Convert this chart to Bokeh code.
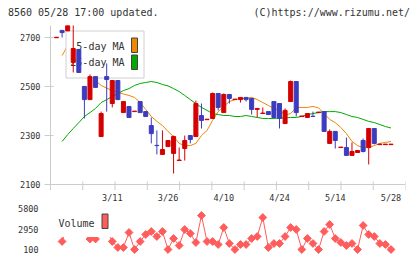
import numpy as np
from bokeh.plotting import figure
from bokeh.models import FixedTicker, Range1d, Span, Div
from bokeh.layouts import column
from bokeh.embed import file_html
from bokeh.resources import INLINE
from bokeh.core.properties import value

# ---------------- data ----------------
date_labels = ["3/11", "3/26", "4/10", "4/24", "5/14", "5/28"]
date_label_idx = [10, 20, 30, 40, 50, 60]
price_ticks = [2100, 2300, 2500, 2700]
volume_ticks = [100, 2950, 5800]
header_left = "8560 05/28 17:00 updated."
header_right = "(C)https://www.rizumu.net/"

opens = [2700, 2730, 2728, 2599, 2652, 2501, 2447, 2541, 2296, 2541,
         2431, 2525, 2394, 2419, 2398, 2439, 2398, 2341, 2260, 2223,
         2255, 2227, 2198, 2247, 2300, 2296, 2382, 2365, 2370, 2472,
         2394, 2468, 2447, 2447, 2456, 2452, 2407, 2390, 2398, 2439,
         2431, 2349, 2439, 2521, 2378, 2374, 2379, 2394, 2398, 2268,
         2317, 2251, 2251, 2219, 2231, 2280, 2251, 2329, 2263, 2263, 2263]
highs = [2702, 2730, 2775, 2765, 2652, 2501, 2550, 2541, 2398, 2595,
         2525, 2525, 2439, 2419, 2400, 2439, 2398, 2374, 2321, 2321,
         2280, 2300, 2251, 2300, 2300, 2443, 2431, 2367, 2476, 2472,
         2472, 2468, 2449, 2456, 2456, 2452, 2411, 2415, 2398, 2439,
         2431, 2411, 2525, 2521, 2380, 2390, 2398, 2396, 2398, 2325,
         2317, 2253, 2292, 2272, 2239, 2288, 2329, 2329, 2265, 2265, 2265]
lows = [2700, 2701, 2728, 2558, 2558, 2370, 2447, 2497, 2296, 2398,
        2415, 2447, 2394, 2374, 2398, 2394, 2378, 2268, 2223, 2223,
        2255, 2145, 2198, 2198, 2268, 2296, 2329, 2365, 2370, 2403,
        2394, 2431, 2447, 2435, 2439, 2386, 2374, 2390, 2386, 2374,
        2329, 2349, 2439, 2378, 2378, 2374, 2378, 2394, 2317, 2268,
        2247, 2251, 2219, 2219, 2231, 2231, 2182, 2264, 2263, 2263, 2263]
closes = [2702, 2721, 2765, 2656, 2558, 2447, 2541, 2497, 2390, 2529,
          2525, 2447, 2439, 2374, 2400, 2394, 2378, 2308, 2259, 2243,
          2280, 2296, 2200, 2280, 2284, 2431, 2362, 2367, 2472, 2415,
          2468, 2452, 2449, 2456, 2447, 2407, 2411, 2392, 2386, 2374,
          2370, 2403, 2521, 2394, 2380, 2390, 2378, 2396, 2317, 2317,
          2280, 2253, 2219, 2235, 2239, 2235, 2329, 2268, 2265, 2265, 2265]
ma5 = [np.nan, 2627, 2668, 2648, 2607, 2574, 2546, 2525, 2505, 2494,
       2484, 2476, 2470, 2464, 2456, 2435, 2407, 2378, 2358, 2341,
       2317, 2296, 2268, 2259, 2259, 2268, 2300, 2321, 2362, 2398,
       2419, 2439, 2447, 2452, 2452, 2456, 2447, 2435, 2423, 2411,
       2403, 2384, 2390, 2415, 2415, 2415, 2419, 2413, 2390, 2366,
       2353, 2333, 2308, 2276, 2259, 2251, 2251, 2259, 2268, 2272, 2276]
ma25 = [np.nan, 2276, 2304, 2329, 2353, 2378, 2394, 2411, 2435, 2447,
        2460, 2472, 2484, 2492, 2505, 2513, 2517, 2521, 2517, 2509,
        2503, 2492, 2480, 2464, 2447, 2431, 2415, 2403, 2390, 2386,
        2382, 2382, 2378, 2378, 2382, 2378, 2374, 2370, 2370, 2370,
        2372, 2372, 2374, 2374, 2378, 2386, 2390, 2394, 2398, 2398,
        2398, 2394, 2386, 2378, 2374, 2366, 2358, 2353, 2345, 2337, 2331]
volume = [np.nan, 1213, 3500, 4200, 3000, 2400, 1560, 1560, 2600, 2800,
          1213, 379, 379, 2464, 100, 1213, 2186, 2603, 1908, 2603,
          100, 1630, 657, 2881, 2325, 1074, 4827, 1213, 1213, 796,
          3159, 935, 100, 796, 796, 1630, 1908, 4549, 379, 935,
          935, 1908, 3159, 2881, 100, 1630, 935, 100, 2603, 3576,
          1630, 1074, 657, 935, 100, 3437, 2186, 1908, 935, 796, 100]

# ---------------- layout constants ----------------
W = 420
LEFT, RIGHT = 50, 15
HEAD_H = 25                 # header strip
MAIN_H = 165                # price frame: y 25 .. 190 on the page
VOL_H = 259 - HEAD_H - MAIN_H
FRAME_W = W - LEFT - RIGHT
XS, XE = -1.08, 62.6
PX_PER_YEN = 159 / 650.0
BASE_PX = 184               # page y of price 2100
P_TOP = 2100 + (BASE_PX - HEAD_H) / PX_PER_YEN
P_BOT = 2100 - (HEAD_H + MAIN_H - BASE_PX) / PX_PER_YEN

RED = "#d40000"
BLUE = "#3c3cbe"
ORANGE = "#ee8800"
GREEN = "#00aa00"
VOLC = "#ff5c5c"
AXC = "#cccccc"
TXT = "#333333"
FONTNAME = "DejaVu Sans Mono"
FONT = value(FONTNAME)

def dx(px):
    return XS + (px - LEFT) * (XE - XS) / FRAME_W

def dy(py):
    return 2100 + (BASE_PX - py) / PX_PER_YEN

def base_fig(height, **kw):
    f = figure(width=W, height=height, output_backend="svg", toolbar_location=None, **kw)
    f.outline_line_color = None
    f.background_fill_color = "white"
    f.border_fill_color = "white"
    f.xgrid.visible = False
    f.ygrid.visible = False
    return f

# ---------------- header ----------------
span_css = "position:absolute;top:6.5px;line-height:12px;white-space:pre;"
header = Div(
    text=(f'<div style="position:relative;width:{W}px;height:{HEAD_H}px;'
          f'font-family:\'{FONTNAME}\';font-size:10px;color:{TXT};background:white;">'
          f'<span style="{span_css}left:8px;">{header_left}</span>'
          f'<span style="{span_css}right:10px;">{header_right}</span></div>'),
    width=W, height=HEAD_H, margin=(0, 0, 0, 0))

# ---------------- price panel ----------------
x = np.arange(len(opens))
o = np.array(opens, float)
c = np.array(closes, float)
colors = [RED if cc >= oo else BLUE for oo, cc in zip(o, c)]

p = base_fig(MAIN_H, x_range=Range1d(XS, XE), y_range=Range1d(P_BOT, P_TOP),
             min_border_left=LEFT, min_border_right=RIGHT, min_border_top=0, min_border_bottom=0)

# baseline and bottom tick marks
p.add_layout(Span(location=2100, dimension="width", line_color=AXC, line_width=1, level="underlay"))
gt = np.linspace(XS, XE, 12)
p.segment(x0=gt, y0=[dy(181)] * len(gt), x1=gt, y1=[P_BOT] * len(gt), line_color=AXC, line_width=1)

# moving averages
p.line(x, ma5, color=ORANGE, line_width=1)
p.line(x, ma25, color=GREEN, line_width=1)

# legend (drawn beneath candles)
p.quad(left=[dx(65.5)], right=[dx(143.5)], top=[dy(30.5)], bottom=[dy(77.5)],
       fill_color="white", line_color="#d0d0d0", line_width=1)
p.text(x=[dx(124), dx(124)], y=[dy(46), dy(62)], text=["5-day MA", "25-day MA"],
       text_align="right", text_baseline="middle", text_font=FONT,
       text_font_size="10px", text_color=TXT)
p.quad(left=[dx(131), dx(131)], right=[dx(137), dx(137)],
       top=[dy(37.5), dy(54.5)], bottom=[dy(52), dy(69)],
       fill_color=[ORANGE, GREEN], line_color="#444444", line_width=1)

# candles
p.segment(x0=x, y0=lows, x1=x, y1=highs, line_color=colors, line_width=1)
p.vbar(x=x, width=0.72, top=np.maximum(o, c), bottom=np.minimum(o, c),
       fill_color=colors, line_color=colors, line_width=1)

p.xaxis.visible = False
p.yaxis.ticker = FixedTicker(ticks=price_ticks)
p.yaxis.major_tick_in = 3
p.yaxis.major_tick_out = 6
p.yaxis.minor_tick_line_color = None
p.yaxis.axis_line_color = AXC
p.yaxis.major_tick_line_color = AXC
p.yaxis.major_label_standoff = 4
p.yaxis.major_label_text_font = FONTNAME
p.yaxis.major_label_text_font_size = "8.5px"
p.yaxis.major_label_text_color = TXT

# ---------------- volume panel ----------------
VOL_TOP_PX = HEAD_H + MAIN_H          # 190
VOL_BOT_PX = 259
V_PER_PX = 5700 / 41.0
V_HI = 5800 + (208 - VOL_TOP_PX) * V_PER_PX
V_LO = 100 - (VOL_BOT_PX - 249) * V_PER_PX

def vy(py):
    return 5800 - (py - 208) * V_PER_PX

v = base_fig(VOL_H, x_range=p.x_range, y_range=Range1d(V_LO, V_HI),
             min_border_left=LEFT, min_border_right=RIGHT, min_border_top=0, min_border_bottom=0)

v.line(x, volume, color=VOLC, line_width=1)
v.scatter(x, volume, marker="square", size=5.5, angle=np.pi / 4, color=VOLC)

v.quad(left=[dx(54)], right=[dx(110.5)], top=[vy(211)], bottom=[vy(236.5)],
       fill_color="white", line_color=None)
v.text(x=[dx(58)], y=[vy(222.5)], text=["Volume"], text_align="left",
       text_baseline="middle", text_font=FONT, text_font_size="10px", text_color=TXT)
v.quad(left=[dx(101.5)], right=[dx(107.5)], top=[vy(213.5)], bottom=[vy(228)],
       fill_color=VOLC, line_color="#444444", line_width=1)

# date labels (between the panels)
v.text(x=date_label_idx, y=[vy(197.5)] * len(date_label_idx), text=date_labels,
       text_align="center", text_baseline="middle", text_font=FONT,
       text_font_size="8.5px", text_color=TXT)

v.xaxis.visible = False
v.yaxis.ticker = FixedTicker(ticks=volume_ticks)
v.yaxis.axis_line_color = None
v.yaxis.major_tick_line_color = None
v.yaxis.minor_tick_line_color = None
v.yaxis.major_label_standoff = 6
v.yaxis.major_label_text_font = FONTNAME
v.yaxis.major_label_text_font_size = "8.5px"
v.yaxis.major_label_text_color = TXT

layout = column(header, p, v, spacing=0)
open("out.html", "w").write(file_html(layout, INLINE))
